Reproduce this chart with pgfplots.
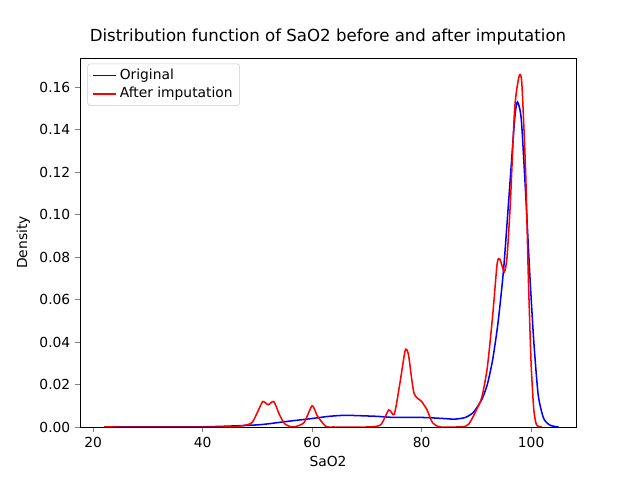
\documentclass[border=0pt]{standalone}
\usepackage{pgfplots}
\pgfplotsset{compat=1.18}
\usepackage{fontspec}
\setmainfont{DejaVu Sans}
\begin{document}
\begin{tikzpicture}
\path (-0.8in,-0.53in) rectangle (5.6in,4.27in);
\begin{axis}[scale only axis, width=4.96in, height=3.69in, at={(0,0)}, anchor=south west,
xmin=17.6, xmax=108.2, ymin=0, ymax=0.1737,
xtick={20,40,60,80,100}, ytick={0,0.02,...,0.16},
xtick pos=bottom, ytick pos=left,
/pgf/number format/assume math mode=true,
yticklabel style={/pgf/number format/.cd,fixed,fixed zerofill,precision=2},
tick label style={font=\fontsize{10}{12}\selectfont},
label style={font=\fontsize{10}{12}\selectfont},
xlabel={SaO2}, ylabel={Density},
title={Distribution function of SaO2 before and after imputation},
title style={font=\fontsize{12}{14}\selectfont},
legend style={at={(0.015,0.985)}, anchor=north west, font=\fontsize{10}{12}\selectfont, draw=black!20, rounded corners=2pt},
legend cell align=left,
tick align=outside, major tick length=3.5pt]
\addplot[draw=blue, line width=1.1pt, smooth, tension=0.4] coordinates {(22,0)(40,0.0001)(50,0.001)(55,0.0025)(60,0.004)(63,0.005)(66,0.0055)(70,0.0052)(72,0.005)(75,0.0045)(80,0.0045)(84,0.004)(86,0.0037)(88,0.0045)(89.5,0.007)(91,0.013)(92,0.02)(93,0.032)(94,0.05)(95,0.075)(96,0.11)(97,0.145)(97.5,0.153)(98.2,0.145)(99,0.11)(99.8,0.07)(100.5,0.04)(101.3,0.015)(102.3,0.004)(103.5,0.0008)(105,0)};
\addlegendentry{Original}
\addplot[draw=red, line width=1.1pt, smooth, tension=0.4] coordinates {(22,0)(44,0)(47,0.0005)(49,0.002)(50.2,0.008)(51,0.012)(52,0.0105)(53,0.012)(54,0.006)(55,0.0015)(56.5,0)(58.5,0.002)(60,0.01)(61,0.005)(62.5,0.0003)(64,0)(70,0)(72.5,0.001)(74,0.008)(75,0.006)(76,0.02)(77,0.036)(77.6,0.034)(78.6,0.016)(80,0.012)(81,0.008)(82,0.002)(83.5,0)(88,0.0003)(89,0.003)(90,0.008)(91,0.014)(92,0.028)(93,0.053)(93.8,0.077)(94.3,0.079)(95.1,0.073)(95.6,0.08)(96.2,0.105)(97,0.15)(97.8,0.165)(98.3,0.162)(99,0.12)(99.5,0.07)(100,0.03)(100.5,0.008)(101,0.001)(102,0)};
\addlegendentry{After imputation}
\end{axis}
\end{tikzpicture}
\end{document}
